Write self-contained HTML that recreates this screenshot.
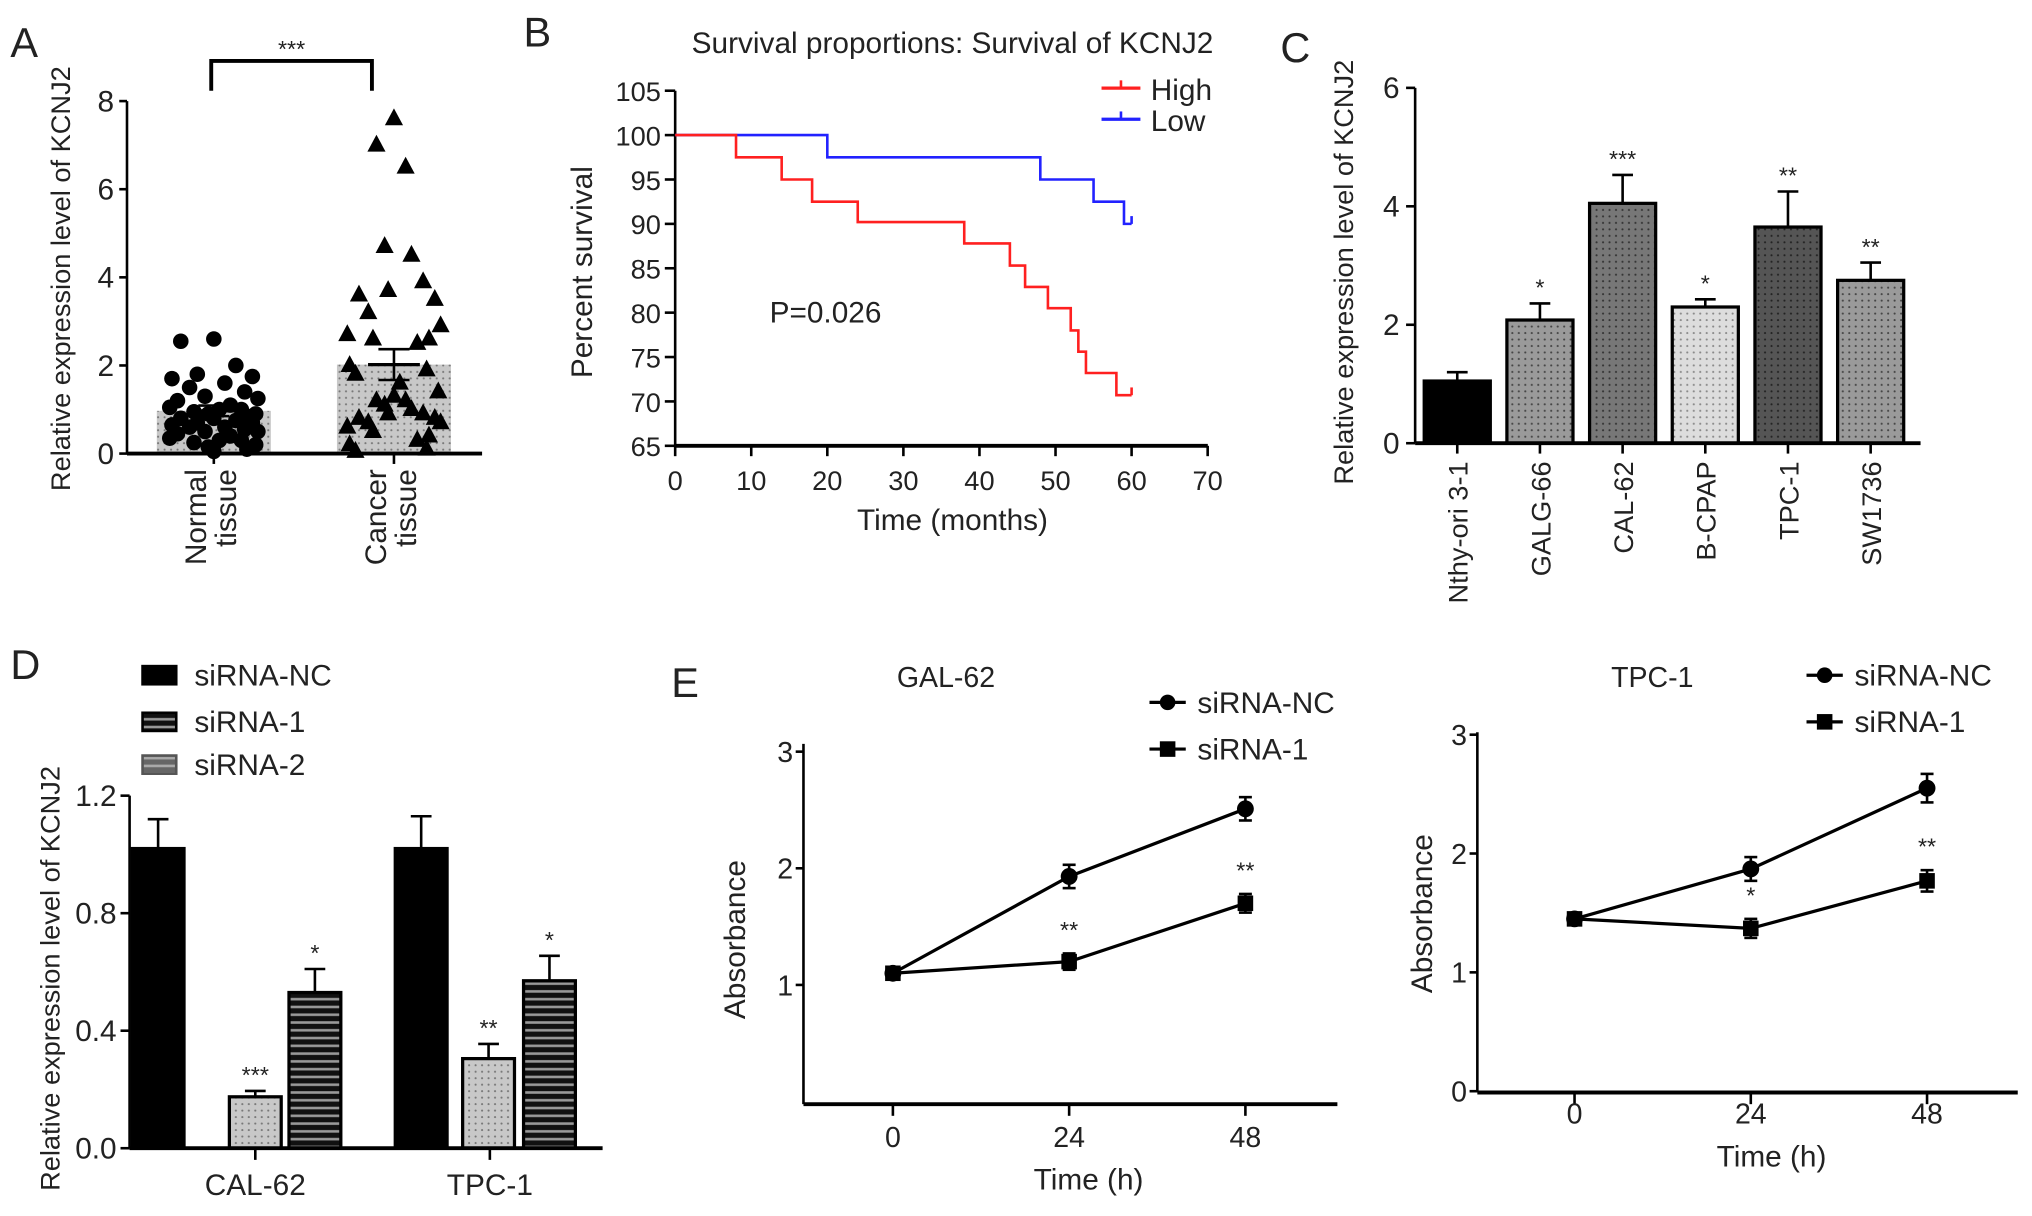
<!DOCTYPE html>
<html><head><meta charset="utf-8"><style>
html,body{margin:0;padding:0;background:#fff}
svg{display:block;font-family:"Liberation Sans",sans-serif}
</style></head><body>
<svg id="fig" width="2032" height="1216" viewBox="0 0 1568 938.3" preserveAspectRatio="none" xmlns="http://www.w3.org/2000/svg">
<defs>
<pattern id="dots" width="5" height="5" patternUnits="userSpaceOnUse"><rect width="5" height="5" fill="#c8c8c8"/><circle cx="2" cy="2" r="0.8" fill="#777"/></pattern>
<pattern id="dotsL" width="5" height="5" patternUnits="userSpaceOnUse"><rect width="5" height="5" fill="#ddd"/><circle cx="2" cy="2" r="0.8" fill="#888"/></pattern>
<pattern id="dotsM" width="5" height="5" patternUnits="userSpaceOnUse"><rect width="5" height="5" fill="#9a9a9a"/><circle cx="2" cy="2" r="0.8" fill="#444"/></pattern>
<pattern id="dotsD" width="5" height="5" patternUnits="userSpaceOnUse"><rect width="5" height="5" fill="#777"/><circle cx="2" cy="2" r="0.8" fill="#333"/></pattern>
<pattern id="dotsX" width="5" height="5" patternUnits="userSpaceOnUse"><rect width="5" height="5" fill="#555"/><circle cx="2" cy="2" r="0.8" fill="#222"/></pattern>
<pattern id="stripes" width="6" height="6" patternUnits="userSpaceOnUse"><rect width="6" height="6" fill="#111"/><rect y="2" width="6" height="2" fill="#999"/></pattern>
<pattern id="stripesG" width="6" height="6" patternUnits="userSpaceOnUse"><rect width="6" height="6" fill="#666"/><rect y="2" width="6" height="2" fill="#aaa"/></pattern>
</defs>
<g id="root"></g>
</svg>
<script>
// ---------- Panel A data ----------
const aGroups = ["Normal tissue", "Cancer tissue"];
const aMeans = [0.97, 2.02];
const aErr = [0.12, 0.35];
const aNormal = [2.6,2.55,2.0,1.8,1.75,1.7,1.6,1.5,1.4,1.3,1.25,1.2,1.1,1.05,1.0,1.0,0.95,0.9,0.9,0.85,0.8,0.8,0.75,0.7,0.7,0.65,0.6,0.6,0.55,0.5,0.5,0.45,0.4,0.35,0.3,0.3,0.25,0.2,0.15,0.1,0.05];
const aCancer = [7.6,7.0,6.5,4.7,4.5,3.9,3.7,3.6,3.5,3.2,2.9,2.7,2.6,2.6,2.5,2.0,1.9,1.8,1.6,1.4,1.3,1.2,1.2,1.1,1.0,0.9,0.9,0.8,0.8,0.7,0.7,0.6,0.5,0.4,0.3,0.2,0.1,0.05];
const aTicks = [0,2,4,6,8];
// ---------- Panel B data ----------
const bHighT = [0,8,14,18,24,38,44,46,49,52,53,54,58,60];
const bHighS = [100,97.5,95,92.5,90.2,87.8,85.3,82.9,80.5,78,75.6,73.2,70.7,70.7];
const bLowT = [0,20,48,55,59,60];
const bLowS = [100,97.5,95,92.5,90,90];
const bYTicks = [65,70,75,80,85,90,95,100,105];
const bXTicks = [0,10,20,30,40,50,60,70];
// ---------- Panel C data ----------
const cCats = ["Nthy-ori 3-1","GALG-66","CAL-62","B-CPAP","TPC-1","SW1736"];
const cVals = [1.05,2.08,4.05,2.3,3.65,2.75];
const cErr = [0.15,0.28,0.48,0.13,0.6,0.3];
const cSig = ["","*","***","*","**","**"];
const cTicks = [0,2,4,6];
// ---------- Panel D data ----------
const dGroups = ["CAL-62","TPC-1"];
const dSeries = ["siRNA-NC","siRNA-1","siRNA-2"];
const dNC = [1.02,1.02];
const dS1 = [0.175,0.305];
const dS2 = [0.53,0.57];
const dErrNC = [0.1,0.11];
const dErrS1 = [0.02,0.05];
const dErrS2 = [0.08,0.085];
const dSigS1 = ["***","**"];
const dSigS2 = ["*","*"];
const dTicks = ["0.0","0.4","0.8","1.2"];
// ---------- Panel E data ----------
const eTimes = [0,24,48];
const eGalNC = [1.1,1.93,2.51];
const eGalS1 = [1.1,1.2,1.7];
const eGalNCerr = [0.03,0.1,0.1];
const eGalS1err = [0.03,0.07,0.08];
const eGalSig = ["","**","**"];
const eTpcNC = [1.45,1.87,2.55];
const eTpcS1 = [1.45,1.37,1.77];
const eTpcNCerr = [0.03,0.1,0.12];
const eTpcS1err = [0.03,0.08,0.09];
const eTpcSig = ["","*","**"];

const NS="http://www.w3.org/2000/svg";
const root=document.getElementById('root');
function mk(tag,attrs,parent,text){const e=document.createElementNS(NS,tag);for(const k in attrs)e.setAttribute(k,attrs[k]);if(text!==undefined)e.textContent=text;(parent||root).appendChild(e);return e;}
function line(x1,y1,x2,y2,w,c,p){return mk('line',{x1,y1,x2,y2,stroke:c||'#000','stroke-width':w||2},p);}
function txt(x,y,s,size,anchor,p,extra){const a=Object.assign({x,y,'font-size':size,'text-anchor':anchor||'middle',fill:'#222'},extra||{});return mk('text',a,p,s);}
function errbar(x,yTop,yMid,w,p){line(x,yMid,x,yTop,2,'#000',p);line(x-w,yTop,x+w,yTop,2,'#000',p);}

[["A",8,44],["B",404,36],["C",988,48],["D",8,524],["E",518,538]].forEach(l=>{
  const t=txt(l[1],l[2],l[0],32,'start');
  
  
});

// ===== Panel A =====
(function(){
  const g=mk('g',{});
  
  
  const y=v=>350-v*34, x0=98, x1=372;
  const centers=[165,304], bw=88;
  aMeans.forEach((m,i)=>{
    const r=mk('rect',{x:centers[i]-bw/2,y:y(m),width:bw,height:350-y(m),fill:'url(#dots)'},g);
    
    
  });
  const jit=[0,-30,20,-15,35,-38,10,-22,28,-8,40,-33,15,-40,5,25,-18,38,-5,30];
  aNormal.forEach((v,i)=>{
    const c=mk('circle',{cx:centers[0]+jit[i%jit.length]*0.85,cy:y(v),r:6,fill:'#000'},g);
    
    
  });
  aCancer.forEach((v,i)=>{
    const cx=centers[1]+jit[(i*3)%jit.length]*0.9, cy=y(v);
    const p=mk('polygon',{points:`${cx},${cy-8} ${cx-7},${cy+5} ${cx+7},${cy+5}`,fill:'#000'},g);
    
    
  });
  aMeans.forEach((m,i)=>{
    line(centers[i]-20,y(m),centers[i]+20,y(m),2.5,'#000',g);
    line(centers[i],y(m-aErr[i]),centers[i],y(m+aErr[i]),2,'#000',g);
    line(centers[i]-12,y(m+aErr[i]),centers[i]+12,y(m+aErr[i]),2,'#000',g);
    line(centers[i]-12,y(m-aErr[i]),centers[i]+12,y(m-aErr[i]),2,'#000',g);
  });
  line(x0,350,x1,350,3,'#000',g);
  line(x0,y(8),x0,350,2,'#000',g);
  aTicks.forEach(t=>{line(x0-6,y(t),x0,y(t),2,'#000',g);txt(x0-10,y(t)+8,String(t),23,'end',g);});
  centers.forEach(c=>line(c,350,c,358,2,'#000',g));
  mk('path',{d:`M163 70 V47 H287 V70`,fill:'none',stroke:'#000','stroke-width':3},g);
  txt(225,44,"***",18,'middle',g);
  const yt=txt(0,0,"Relative expression level of KCNJ2",21,'middle',g,{transform:'translate(54,215) rotate(-90)'});
  
  
  [["Normal","tissue"],["Cancer","tissue"]].forEach((l,i)=>{
    txt(0,0,l[0],23,'end',g,{transform:`translate(${centers[i]-6},362) rotate(-90)`});
    txt(0,0,l[1],23,'end',g,{transform:`translate(${centers[i]+17},362) rotate(-90)`});
  });
})();

// ===== Panel B =====
(function(){
  const g=mk('g',{});
  
  
  const x=t=>521+t*5.87, y=s=>344-(s-65)*6.85;
  line(521,y(105),521,344,2,'#000',g);
  line(521,344,932,344,3,'#000',g);
  bYTicks.forEach(t=>{line(513,y(t),521,y(t),2,'#000',g);txt(510,y(t)+8,String(t),21,'end',g);});
  bXTicks.forEach(t=>{line(x(t),344,x(t),352,2,'#000',g);txt(x(t),378,String(t),21,'middle',g);});
  function steps(T,S,color,name){
    let d=`M${x(T[0])} ${y(S[0])}`;
    for(let i=1;i<T.length;i++){d+=` H${x(T[i])} V${y(S[i])}`;}
    const p=mk('path',{d,fill:'none',stroke:color,'stroke-width':2},g);
    
    
    const xe=x(T[T.length-1]), ye=y(S[S.length-1]);
    line(xe,ye,xe,ye-6,2,color,g);
  }
  steps(bLowT,bLowS,'#2222ff','line-low');
  steps(bHighT,bHighS,'#ff2020','line-high');
  txt(735,41,"Survival proportions: Survival of KCNJ2",23,'middle',g);
  line(850,68,880,68,2.5,'#ff2020',g);line(865,68,865,62,2,'#ff2020',g);
  line(850,92,880,92,2.5,'#2222ff',g);line(865,92,865,86,2,'#2222ff',g);
  const l1=txt(888,77,"High",23,'start',g);
  
  
  const l2=txt(888,101,"Low",23,'start',g);
  
  
  txt(637,249,"P=0.026",23,'middle',g);
  txt(0,0,"Percent survival",23,'middle',g,{transform:'translate(457,210) rotate(-90)'});
  txt(735,409,"Time (months)",23,'middle',g);
})();

// ===== Panel C =====
(function(){
  const g=mk('g',{});
  
  
  const y=v=>342-v*45.7, x0=1092;
  const fills=['#000','url(#dotsM)','url(#dotsD)','url(#dotsL)','url(#dotsX)','url(#dotsM)'];
  cCats.forEach((c,i)=>{
    const cx=1124.5+i*63.8, bw=51;
    errbar(cx,y(cVals[i]+cErr[i]),y(cVals[i]),8,g);
    const r=mk('rect',{x:cx-bw/2,y:y(cVals[i]),width:bw,height:342-y(cVals[i]),fill:fills[i],stroke:'#000','stroke-width':2.5},g);
    
    
    if(cSig[i])txt(cx,y(cVals[i]+cErr[i])-6,cSig[i],18,'middle',g);
    line(cx,342,cx,350,2,'#000',g);
    txt(0,0,c,21,'end',g,{transform:`translate(${cx+8},356) rotate(-90)`});
  });
  line(x0,y(6),x0,342,2,'#000',g);
  line(x0,342,1482,342,3,'#000',g);
  cTicks.forEach(t=>{line(x0-7,y(t),x0,y(t),2,'#000',g);txt(x0-12,y(t)+8,String(t),23,'end',g);});
  txt(0,0,"Relative expression level of KCNJ2",21,'middle',g,{transform:'translate(1044,210) rotate(-90)'});
})();

// ===== Panel D =====
(function(){
  const g=mk('g',{});
  
  
  const y=v=>886-v*226.7, x0=100;
  const fills=['#000','url(#dots)','url(#stripes)'];
  const legFills=['#000','url(#stripes)','url(#stripesG)'];
  const groupX=[[122,197,243],[325,377,424]];
  const vals=[dNC,dS1,dS2], errs=[dErrNC,dErrS1,dErrS2], sigs=[null,dSigS1,dSigS2];
  dGroups.forEach((grp,gi)=>{
    dSeries.forEach((s,si)=>{
      const cx=groupX[gi][si], bw=40, v=vals[si][gi];
      errbar(cx,y(v+errs[si][gi]),y(v),8,g);
      const r=mk('rect',{x:cx-bw/2,y:y(v),width:bw,height:886-y(v),fill:fills[si],stroke:'#000','stroke-width':2.5},g);
      
      
      if(sigs[si])txt(cx,y(v+errs[si][gi])-6,sigs[si][gi],18,'middle',g);
    });
    const gc=[197,378][gi];
    line(gc,886,gc,895,2,'#000',g);
    txt(gc,922,grp,23,'middle',g);
  });
  line(x0,y(1.2),x0,886,2,'#000',g);
  line(x0,886,465,886,3,'#000',g);
  dTicks.forEach(t=>{const v=parseFloat(t);line(x0-7,y(v),x0,y(v),2,'#000',g);txt(x0-10,y(v)+8,t,23,'end',g);});
  txt(0,0,"Relative expression level of KCNJ2",21,'middle',g,{transform:'translate(46,755) rotate(-90)'});
  dSeries.forEach((s,i)=>{
    const yy=[521,557,590][i];
    mk('rect',{x:110,y:yy-7,width:26,height:14,fill:legFills[i],stroke:i===2?'#555':'#000','stroke-width':2},g);
    const t=txt(150,yy+8,s,23,'start',g);
    
    
  });
})();

// ===== Panel E =====
function lineChart(opt){
  const g=mk('g',{});
  
  
  const x=t=>opt.x0+t*opt.sx, y=v=>opt.yBase-v*opt.sy;
  line(opt.axX,opt.yTop,opt.axX,opt.axY,2,'#000',g);
  line(opt.axX,opt.axY,opt.axX2,opt.axY,3,'#000',g);
  opt.ticks.forEach(t=>{line(opt.axX-6,y(t),opt.axX,y(t),2,'#000',g);txt(opt.axX-8,y(t)+8,String(t),22,'end',g);});
  eTimes.forEach(t=>{line(x(t),opt.axY,x(t),opt.axY+9,2,'#000',g);txt(x(t),opt.axY+opt.tickOff,String(t),22,'middle',g);});
  function series(vals,errs,marker,nm){
    const pts=vals.map((v,i)=>`${x(eTimes[i])},${y(v)}`).join(' ');
    const pl=mk('polyline',{points:pts,fill:'none',stroke:'#000','stroke-width':2.5},g);
    
    
    vals.forEach((v,i)=>{
      const cx=x(eTimes[i]), cy=y(v);
      line(cx,y(v-errs[i]),cx,y(v+errs[i]),2,'#000',g);
      line(cx-5,y(v+errs[i]),cx+5,y(v+errs[i]),2,'#000',g);
      line(cx-5,y(v-errs[i]),cx+5,y(v-errs[i]),2,'#000',g);
      if(marker==='c')mk('circle',{cx,cy,r:6.5,fill:'#000'},g);
      else mk('rect',{x:cx-6,y:cy-6,width:12,height:12,fill:'#000'},g);
    });
  }
  series(opt.nc,opt.ncErr,'c','line-sirna-nc');
  series(opt.s1,opt.s1Err,'s','line-sirna-1');
  opt.sig.forEach((s,i)=>{if(s)txt(x(eTimes[i]),y(opt.s1[i]+opt.s1Err[i])-12,s,18,'middle',g);});
  txt(opt.titleX,530,opt.title,22,'middle',g);
  [["siRNA-NC",'c'],["siRNA-1",'s']].forEach((l,i)=>{
    const yy=opt.legY[i];
    line(opt.legX,yy,opt.legX+28,yy,2.5,'#000',g);
    if(l[1]==='c')mk('circle',{cx:opt.legX+14,cy:yy,r:6,fill:'#000'},g);
    else mk('rect',{x:opt.legX+8,y:yy-6,width:12,height:12,fill:'#000'},g);
    const t=txt(opt.legX+37,yy+8,l[0],23,'start',g);
    
    
  });
  txt(0,0,"Absorbance",23,'middle',g,{transform:`translate(${opt.absX},${opt.absY}) rotate(-90)`});
  txt(opt.timeX,opt.timeY,"Time (h)",23,'middle',g);
}
lineChart({name:'panel-e-gal62',x0:689,sx:5.667,yBase:850,sy:90,axX:620,axX2:1032,axY:852,yTop:574,tickOff:33,
  ticks:[1,2,3],nc:eGalNC,s1:eGalS1,ncErr:eGalNCerr,s1Err:eGalS1err,sig:eGalSig,
  title:"GAL-62",titleX:730,legX:887,legY:[542,578],absX:575,absY:725,timeX:840,timeY:918});
lineChart({name:'panel-e-tpc1',x0:1215,sx:5.667,yBase:842,sy:91.7,axX:1140,axX2:1557,axY:843,yTop:565,tickOff:24,
  ticks:[0,1,2,3],nc:eTpcNC,s1:eTpcS1,ncErr:eTpcNCerr,s1Err:eTpcS1err,sig:eTpcSig,
  title:"TPC-1",titleX:1275,legX:1394,legY:[521,557],absX:1105,absY:705,timeX:1367,timeY:900});
</script>
</body></html>
